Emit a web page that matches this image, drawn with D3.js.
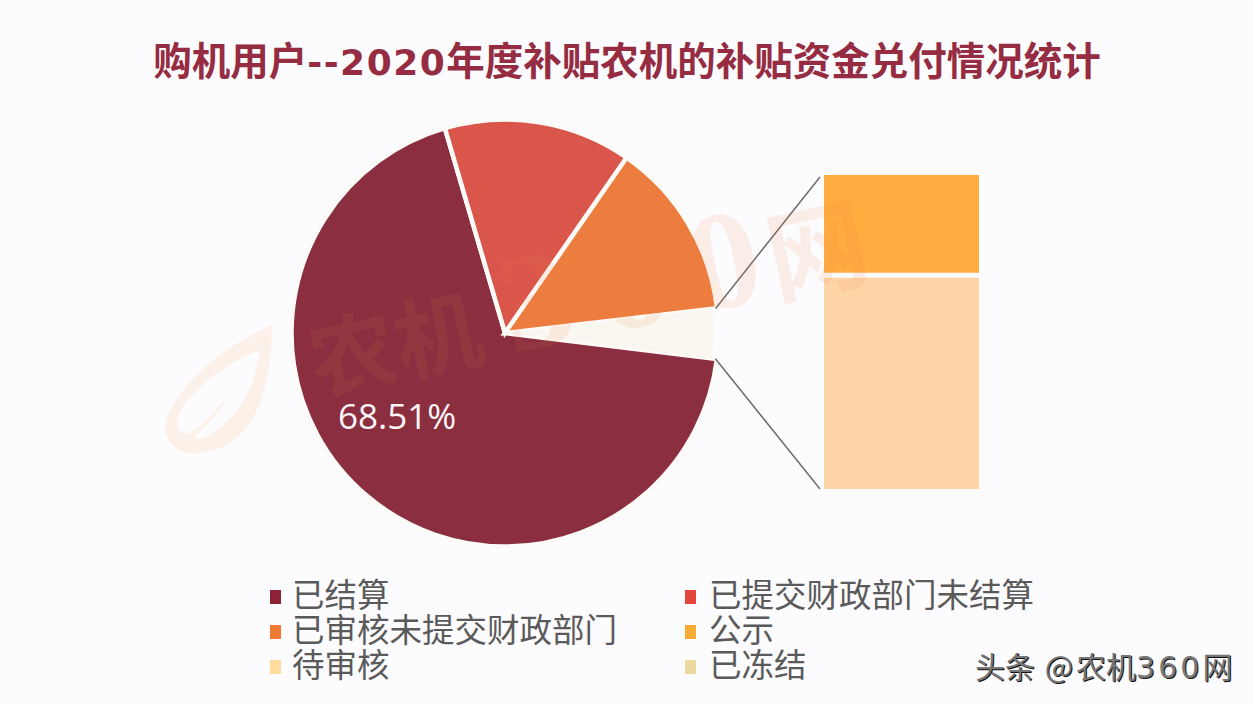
<!DOCTYPE html>
<html>
<head>
<meta charset="utf-8">
<script src="https://cdn.jsdelivr.net/npm/d3@7"></script>
<style>
html, body { margin: 0; padding: 0; background: #fcfbfd; overflow: hidden; }
text { font-family: "Noto Sans CJK SC", "Noto Sans", sans-serif; }
</style>
</head>
<body>
<svg id="chart" width="1254" height="704"></svg>
<script>
var titleParts = ["购机用户", "--2020", "年度补贴农机的补贴资金兑付情况统计"]

// main pie, the last slice is what the bar on the right breaks out
var pieNames = ["已结算", "已提交财政部门未结算", "已审核未提交财政部门", "其他"]
var pieValues = [68.51, 14.2, 13.5, 3.79]
var pieColors = ["#8a2e40", "#da564b", "#ec7d3e", "#f9f7f0"]

var barNames = ["公示", "待审核"]
var barValues = [1.21, 2.58]
var barColors = ["#ffac40", "#fed5a6"]

var legendNames = ["已结算", "已提交财政部门未结算", "已审核未提交财政部门", "公示", "待审核", "已冻结"]
var legendColors = ["#8f2336", "#e2463c", "#f0782f", "#fbab35", "#fddc9d", "#ebd89c"]

var width = 1254, height = 704
var cx = 505, cy = 333, radius = 213.5
var svg = d3.select("#chart")

var titleText = svg.append("text")
    .attr("x", 627).attr("y", 75)
    .attr("text-anchor", "middle")
    .style("font-size", "38.5px").style("font-weight", 700)
    .style("fill", "#962c42")
titleText.selectAll("tspan")
    .data(titleParts)
    .enter().append("tspan")
    .style("font-family", function(d, i) { return i == 1 ? "'DejaVu Sans', sans-serif" : null })
    .style("font-size", function(d, i) { return i == 1 ? "36px" : null })
    .style("letter-spacing", function(d, i) { return i == 1 ? "1.5px" : "0px" })
    .text(function(d) { return d })

// pale leaf logo of the site, behind the pie
svg.append("path")
    .attr("d", "M272 325C225 345 175 385 165 425C163 445 185 458 200 452C245 450 272 405 272 325ZM260 350C255 385 240 420 205 437C196 441 190 440 203 428C215 417 222 408 229 395C222 402 205 425 190 433C178 436 174 425 180 412C195 385 230 362 260 350Z")
    .attr("fill", "#fbf1e9")
    .attr("fill-rule", "evenodd")

var angleStart = 97 * Math.PI / 180
var pie = d3.pie().sort(null).startAngle(angleStart).endAngle(angleStart + 2 * Math.PI)
var arc = d3.arc().innerRadius(0).outerRadius(function(d) { return d.index == 3 ? radius - 5 : radius })
var arcs = pie(pieValues)

var pieG = svg.append("g").attr("transform", "translate(" + cx + "," + cy + ")")
pieG.selectAll("path.slice")
    .data(arcs)
    .enter().append("path")
    .attr("class", "slice")
    .attr("d", arc)
    .attr("fill", function(d, i) { return pieColors[i] })
    .attr("stroke", "#fdfbf8")
    .attr("stroke-width", function(d, i) { return i == 3 ? 0 : 4.5 })

// stacked bar of the broken out slice
var barTop = 175, barBottom = 489, barLeft = 824, barRight = 979
var barGap = 5
var barTotal = d3.sum(barValues)
var y = d3.scaleLinear().domain([0, barTotal]).range([barTop, barBottom])
var stackStart = d3.cumsum([0].concat(barValues))

svg.selectAll("rect.stack")
    .data(barValues)
    .enter().append("rect")
    .attr("class", "stack")
    .attr("x", barLeft)
    .attr("y", function(d, i) { return y(stackStart[i]) + (i > 0 ? barGap / 2 : 0) })
    .attr("width", barRight - barLeft)
    .attr("height", function(d, i) { return y(d) - y(0) - barGap / 2 })
    .attr("fill", function(d, i) { return barColors[i] })

// leader lines go from the pale slice edge out to the bar
var other = arcs[3]
var leaders = [[other.startAngle, barTop + 2], [other.endAngle, barBottom]]
svg.selectAll("line.leader")
    .data(leaders)
    .enter().append("line")
    .attr("class", "leader")
    .attr("x1", function(d) { return cx + (radius - 1.5) * Math.sin(d[0]) })
    .attr("y1", function(d) { return cy - (radius - 1.5) * Math.cos(d[0]) })
    .attr("x2", barLeft - 4)
    .attr("y2", function(d) { return d[1] })
    .attr("stroke", "#716b69")
    .attr("stroke-width", 1.5)

// site watermark, very faint over everything
var wm = svg.append("text")
    .attr("transform", "translate(316,395) rotate(-12)")
    .style("font-family", "'Liberation Serif', 'Noto Sans CJK SC', serif")
    .style("font-weight", 700)
    .style("fill", "#ec7d3e").style("opacity", 0.1)
wm.append("tspan").attr("x", 0).style("font-size", "88px").text("农机")
wm.append("tspan").attr("x", 200).style("font-size", "140px").text("3")
wm.append("tspan").attr("x", 296).style("font-size", "140px").text("6")
wm.append("tspan").attr("x", 392).style("font-size", "140px").text("0")
wm.append("tspan").attr("x", 470).style("font-size", "100px").text("网")

svg.append("text")
    .attr("x", 338).attr("y", 429)
    .style("font-family", "'Open Sans', sans-serif")
    .style("font-size", "35px")
    .style("fill", "#fdf6f6")
    .text("68.51%")

// legend, two columns
var legendX = [270, 685], legendTextX = [22, 24], legendY = [595, 630, 665]
var legend = svg.selectAll("g.legend")
    .data(legendNames)
    .enter().append("g")
    .attr("class", "legend")
    .attr("transform", function(d, i) {
        return "translate(" + legendX[i % 2] + "," + legendY[Math.floor(i / 2)] + ")"
    })
legend.append("rect")
    .attr("x", 0).attr("y", -5)
    .attr("width", 11).attr("height", 14)
    .attr("fill", function(d, i) { return legendColors[i] })
legend.append("text")
    .attr("x", function(d, i) { return legendTextX[i % 2] })
    .attr("y", 12)
    .style("font-size", "32.5px").style("fill", "#5a5a5a")
    .text(function(d) { return d })

// toutiao credit, dark copy under a lighter one gives the embossed look
var creditParts = ["头条", " @", "农机", "360", "网"]
var creditLayers = [[1, 1, "#111"], [0, 0, "#777"]]
creditLayers.forEach(function(layer) {
    var t = svg.append("text")
        .attr("x", 975 + layer[0]).attr("y", 678 + layer[1])
        .style("font-size", "30px")
        .style("fill", layer[2])
        .attr("xml:space", "preserve")
    t.selectAll("tspan")
        .data(creditParts)
        .enter().append("tspan")
        .style("font-family", function(d) { return d == "360" ? "'DejaVu Sans', sans-serif" : null })
        .style("letter-spacing", function(d) { return d == "360" ? "3px" : d == " @" ? "3px" : "0px" })
        .text(function(d) { return d })
})
</script>
</body>
</html>
